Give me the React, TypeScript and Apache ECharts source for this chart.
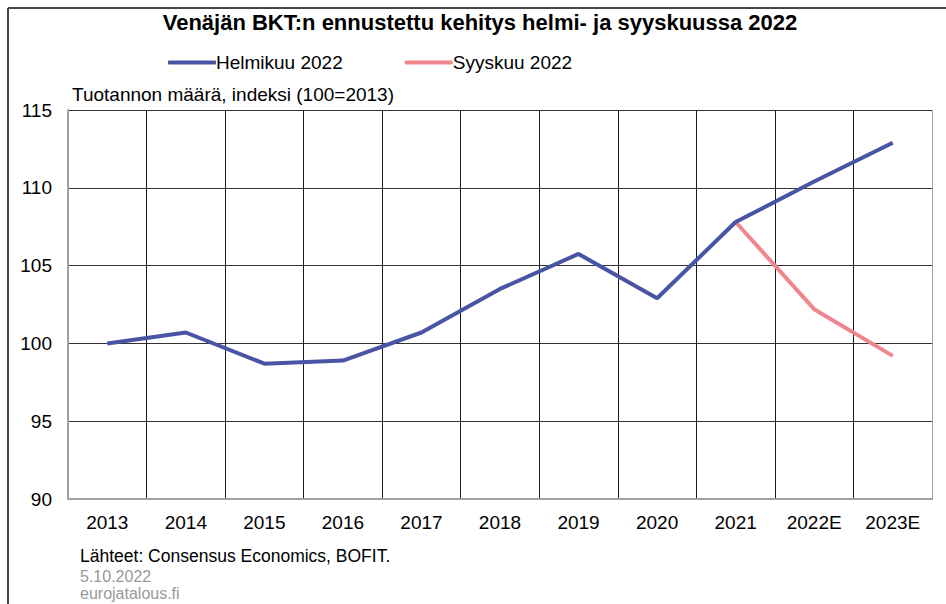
import React, { useEffect, useRef } from "react";
import * as echarts from "echarts";

const categories = ["2013", "2014", "2015", "2016", "2017", "2018", "2019", "2020", "2021", "2022E", "2023E"];
const helmikuu = [100.0, 100.7, 98.7, 98.9, 100.7, 103.5, 105.75, 102.9, 107.8, 110.4, 112.9];
const syyskuu = [null, null, null, null, null, null, null, null, 107.8, 102.2, 99.2];
const yTicks = { min: 90, max: 115, interval: 5 };

const FONT = "Liberation Sans, Arial, sans-serif";

export default function App() {
  const ref = useRef<HTMLDivElement>(null);
  useEffect(() => {
    if (!ref.current) return;
    const chart = echarts.init(ref.current, null, { renderer: "svg" });
    const splitColors = categories.map((_, i) => (i === 0 ? "#a0a0a0" : "#1a1a1a")).concat(["#a0a0a0"]);
    chart.setOption({
      animation: false,
      backgroundColor: "#ffffff",
      textStyle: { fontFamily: FONT },
      title: {
        text: "Venäjän BKT:n ennustettu kehitys helmi- ja syyskuussa 2022",
        left: 475,
        textAlign: "center",
        top: 6,
        textStyle: { fontSize: 22, fontWeight: "bold", color: "#000", fontFamily: FONT },
      },
      legend: {
        top: 48,
        left: 163,
        itemGap: 62,
        itemWidth: 48,
        itemHeight: 4,
        icon: "roundRect",
        textStyle: { fontSize: 19, color: "#000", fontFamily: FONT, padding: [0, 0, 0, -5] },
        data: ["Helmikuu 2022", "Syyskuu 2022"],
      },
      grid: { left: 68, right: 14, top: 110, bottom: 105, containLabel: false },
      xAxis: {
        type: "category",
        data: categories,
        boundaryGap: true,
        axisLine: { show: true, lineStyle: { color: "#a0a0a0", width: 2 } },
        axisTick: { show: false },
        axisLabel: { fontSize: 19, color: "#000", margin: 14, interval: 0, fontFamily: FONT },
        splitLine: { show: true, interval: 0, lineStyle: { color: splitColors, width: 1 } },
      },
      yAxis: {
        type: "value",
        min: yTicks.min,
        max: yTicks.max,
        interval: yTicks.interval,
        axisLine: { show: true, lineStyle: { color: "#a0a0a0", width: 2 } },
        axisTick: { show: false },
        axisLabel: { fontSize: 19, color: "#000", margin: 16, fontFamily: FONT },
        splitLine: { show: true, lineStyle: { color: "#333", width: 1 } },
      },
      graphic: [
        { type: "line", shape: { x1: 8, y1: 8, x2: 946, y2: 8 }, style: { stroke: "#444", lineWidth: 2 } },
        { type: "line", shape: { x1: 8, y1: 8, x2: 8, y2: 604 }, style: { stroke: "#444", lineWidth: 2 } },
        { type: "text", left: 72, top: 85, style: { text: "Tuotannon määrä, indeksi (100=2013)", fontSize: 19, fill: "#000", fontFamily: FONT } },
        { type: "text", left: 80, top: 547, style: { text: "Lähteet: Consensus Economics, BOFIT.", fontSize: 17.5, fill: "#000", fontFamily: FONT } },
        { type: "text", left: 80, top: 568, style: { text: "5.10.2022", fontSize: 16, fill: "#999", fontFamily: FONT } },
        { type: "text", left: 80, top: 585, style: { text: "eurojatalous.fi", fontSize: 16, fill: "#999", fontFamily: FONT } },
      ],
      series: [
        {
          name: "Helmikuu 2022",
          type: "line",
          data: helmikuu,
          symbol: "none",
          lineStyle: { color: "#4a54a4", width: 4 },
          itemStyle: { color: "#4a54a4" },
          z: 3,
        },
        {
          name: "Syyskuu 2022",
          type: "line",
          data: syyskuu,
          symbol: "none",
          lineStyle: { color: "#f0868d", width: 4 },
          itemStyle: { color: "#f0868d" },
          z: 2,
        },
      ],
    });
    return () => chart.dispose();
  }, []);
  return <div ref={ref} style={{ width: 946, height: 604, position: "absolute", left: 0, top: 0 }} />;
}
